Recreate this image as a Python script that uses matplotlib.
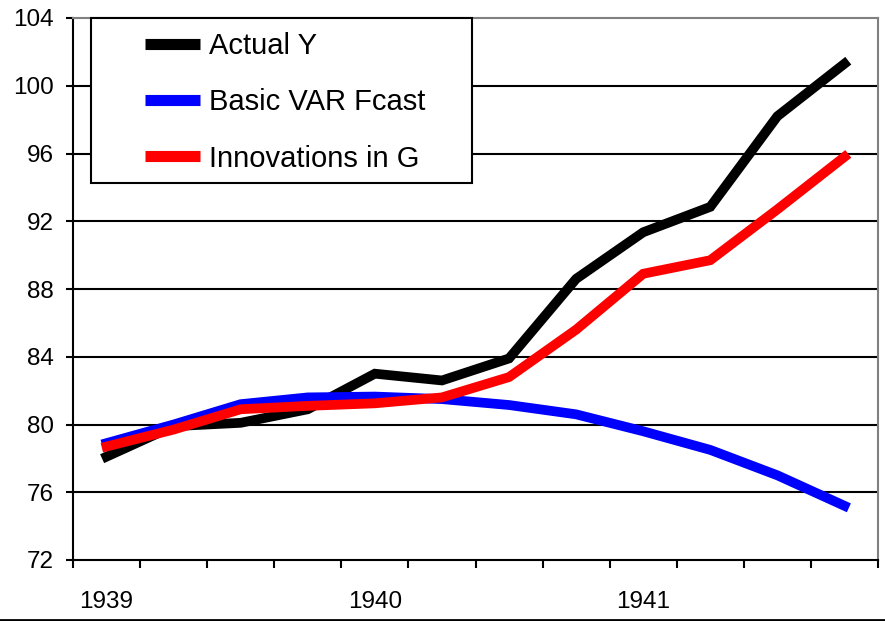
import numpy as np
import matplotlib
matplotlib.use('Agg')
import matplotlib.pyplot as plt
from matplotlib.patches import Rectangle
from matplotlib.lines import Line2D

plt.rcParams['font.family'] = ['Liberation Sans', 'DejaVu Sans']

# 季度数据 1939Q1 - 1941Q4
quarters = ['1939Q1', '1939Q2', '1939Q3', '1939Q4',
            '1940Q1', '1940Q2', '1940Q3', '1940Q4',
            '1941Q1', '1941Q2', '1941Q3', '1941Q4']
year_labels = ['1939', '1940', '1941']
actual_y = [78.1, 79.9, 80.1, 80.9, 83.0, 82.6, 83.9, 88.6, 91.35, 92.85, 98.2, 101.3]
basic_var = [78.9, 80.0, 81.2, 81.6, 81.65, 81.5, 81.15, 80.6, 79.6, 78.5, 77.0, 75.2]
innov_g = [78.7, 79.7, 80.9, 81.1, 81.25, 81.6, 82.8, 85.6, 88.9, 89.7, 92.7, 95.8]
y_ticks = [72, 76, 80, 84, 88, 92, 96, 100, 104]

fig = plt.figure(figsize=(8.85, 6.21), dpi=100)
ax = fig.add_axes([73 / 885, 61 / 621, 805 / 885, 542 / 621])

x = np.arange(len(quarters))
ax.plot(x, actual_y, color='black', lw=7, solid_joinstyle='miter', label='Actual Y', zorder=3)
ax.plot(x, basic_var, color='#0000ff', lw=7, solid_joinstyle='miter', label='Basic VAR Fcast', zorder=4)
ax.plot(x, innov_g, color='#ff0000', lw=7, solid_joinstyle='miter', label='Innovations in G', zorder=5)

# 坐标轴范围
ax.set_xlim(-0.5, len(quarters) - 0.5)
ax.set_ylim(72, 104)

# y轴刻度与网格
ax.set_yticks(y_ticks)
ax.set_yticklabels([str(v) for v in y_ticks], fontsize=17.5)
ax.tick_params(axis='y', direction='out', length=5, width=1.5, pad=9)
for v in y_ticks[1:-1]:
    ax.axhline(v, color='black', lw=1.5, zorder=1)

# x轴刻度：季度边界，年份标签在每年第一季度
ax.set_xticks(np.arange(len(quarters) + 1) - 0.5)
ax.set_xticklabels([])
ax.tick_params(axis='x', which='major', direction='out', length=6, width=1.5)
ax.set_xticks([0, 4, 8], minor=True)
ax.set_xticklabels(year_labels, minor=True, fontsize=17.5)
ax.tick_params(axis='x', which='minor', length=0, pad=22)

for s in ['left', 'bottom']:
    ax.spines[s].set_color('black')
    ax.spines[s].set_linewidth(1.5)
for s in ['top', 'right']:
    ax.spines[s].set_color('#808080')
    ax.spines[s].set_linewidth(1.5)

# 图例
ax.add_patch(Rectangle((18 / 805, 377 / 542), 381 / 805, 165 / 542, transform=ax.transAxes,
                       facecolor='white', edgecolor='black', lw=1.5, zorder=6, clip_on=False))
leg = ax.legend(loc='upper left', bbox_to_anchor=(72 / 805, 1.0 - 14 / 542), frameon=False,
                fontsize=21, handlelength=1.9, handletextpad=0.3, labelspacing=0.97,
                borderpad=0, borderaxespad=0)
leg.set_zorder(7)
for h in leg.get_lines():
    h.set_linewidth(8)
    h.set_solid_capstyle('butt')

# 底部边线
fig.add_artist(Line2D([0, 1], [1.5 / 621, 1.5 / 621], color='black', lw=2))

fig.savefig('out.png', dpi=100)
